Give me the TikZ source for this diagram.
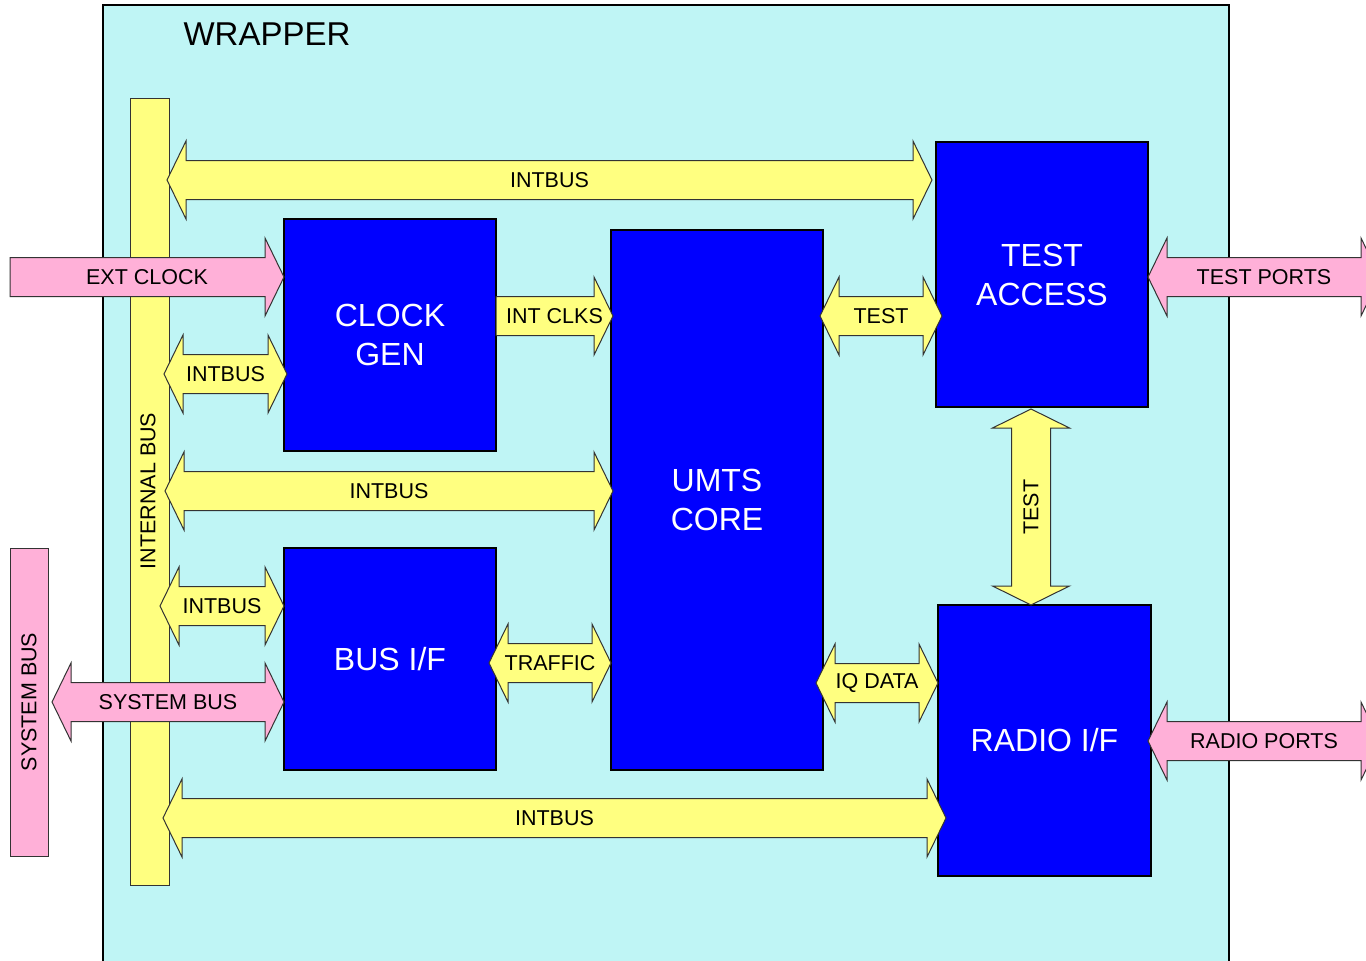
\documentclass[tikz,border=0pt]{standalone}
\usepackage{fontspec}
\setmainfont{Liberation Sans}
\definecolor{wrapcyan}{HTML}{BFF5F5}
\definecolor{busyellow}{HTML}{FFFF80}
\definecolor{portpink}{HTML}{FFB0D8}
\definecolor{blockblue}{HTML}{0000FF}
% horizontal double arrow: name, x1, x2, yc, fill, label
\newcommand{\dharrow}[6]{%
  \draw[arrowline,fill=#5] (#2,#4) -- (#2+19,#4-39) -- (#2+19,#4-19.5) -- (#3-19,#4-19.5) -- (#3-19,#4-39) -- (#3,#4)
    -- (#3-19,#4+39) -- (#3-19,#4+19.5) -- (#2+19,#4+19.5) -- (#2+19,#4+39) -- cycle;
  \node[lbl] (#1) at ({(#2+#3)/2},#4) {#6};}
% horizontal single arrow pointing right: name, x1, x2, yc, fill, label
\newcommand{\srarrow}[6]{%
  \draw[arrowline,fill=#5] (#2,#4-19.5) -- (#3-19,#4-19.5) -- (#3-19,#4-39) -- (#3,#4)
    -- (#3-19,#4+39) -- (#3-19,#4+19.5) -- (#2,#4+19.5) -- cycle;
  \node[lbl] (#1) at ({(#2+#3)/2},#4) {#6};}
% vertical double arrow: name, xc, y1, y2, fill, label
\newcommand{\dvarrow}[6]{%
  \draw[arrowline,fill=#5] (#2,#3) -- (#2+38.5,#3+19) -- (#2+19.5,#3+19) -- (#2+19.5,#4-19) -- (#2+38.5,#4-19) -- (#2,#4)
    -- (#2-38.5,#4-19) -- (#2-19.5,#4-19) -- (#2-19.5,#3+19) -- (#2-38.5,#3+19) -- cycle;
  \node[lbl,rotate=90] (#1) at (#2,{(#3+#4)/2}) {#6};}
\begin{document}
\begin{tikzpicture}[x=1pt,y=-1pt,
  arrowline/.style={draw=black!80,line width=1pt,line join=miter},
  lbl/.style={inner sep=0pt,text=black,font=\fontsize{21.5}{24}\selectfont},
  block/.style={draw=black,line width=2pt,fill=blockblue,text=white,inner sep=0pt,align=center,
    font=\fontsize{32}{39}\selectfont},
  bar/.style={draw=black!80,line width=1pt,inner sep=0pt}]
\useasboundingbox (0,0) rectangle (1366,961);
\clip (0,0) rectangle (1366,961);
\fill[white] (0,0) rectangle (1366,961);
% wrapper
\draw[fill=wrapcyan,draw=black,line width=1.5pt] (103,5) rectangle (1229,1000);
\node[text=black,inner sep=0pt,font=\fontsize{33}{36}\selectfont] (wraplbl) at (267,34) {WRAPPER};
% external system bus
\node[bar,fill=portpink,minimum width=38pt,minimum height=308pt] (sysbus) at (29,702) {};
\node[lbl,rotate=90] (sysbuslbl) at (29,702) {SYSTEM BUS};
% internal bus
\node[bar,fill=busyellow,minimum width=39pt,minimum height=787pt] (intbus) at (149.5,491.5) {};
\node[lbl,rotate=90] (intbuslbl) at (148,491) {INTERNAL BUS};
% blocks
\node[block,minimum width=212pt,minimum height=232pt] (clk) at (390,335) {CLOCK\\GEN};
\node[block,minimum width=212pt,minimum height=222pt] (busif) at (390,659) {BUS I/F};
\node[block,minimum width=212pt,minimum height=540pt] (umts) at (717,500) {UMTS\\CORE};
\node[block,minimum width=212pt,minimum height=265pt] (test) at (1042,274.5) {TEST\\ACCESS};
\node[block,minimum width=213pt,minimum height=271pt] (radio) at (1044.5,740.5) {RADIO I/F};
% arrows
\dharrow{ibtop}{167}{932}{180}{busyellow}{INTBUS}
\srarrow{extclk}{10}{284}{277}{portpink}{EXT CLOCK}
\dharrow{ibclk}{164}{287}{374}{busyellow}{INTBUS}
\srarrow{intclks}{496}{613}{316}{busyellow}{INT CLKS}
\dharrow{testh}{820}{942}{316}{busyellow}{TEST}
\dharrow{ibmid}{165}{613}{491}{busyellow}{INTBUS}
\dharrow{ibbusif}{160}{284}{606}{busyellow}{INTBUS}
\dharrow{sysbusarr}{52}{284}{702}{portpink}{SYSTEM BUS}
\dharrow{traffic}{489}{611}{663}{busyellow}{TRAFFIC}
\dharrow{iqdata}{816}{938}{683}{busyellow}{IQ DATA}
\dharrow{ibbot}{163}{946}{818}{busyellow}{INTBUS}
\dvarrow{testv}{1031}{409}{605}{busyellow}{TEST}
\dharrow{testports}{1148}{1380}{277}{portpink}{TEST PORTS}
\dharrow{radioports}{1148}{1380}{741}{portpink}{RADIO PORTS}
\end{tikzpicture}
\end{document}
